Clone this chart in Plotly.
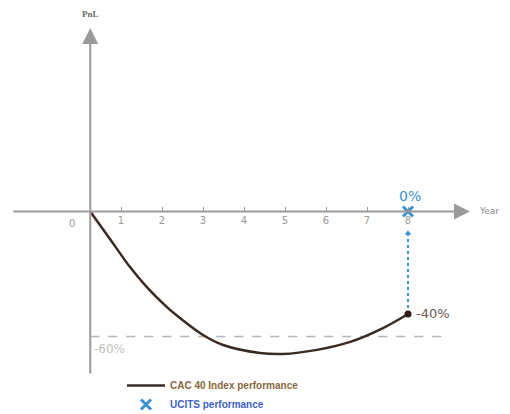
import plotly.graph_objects as go

# CAC 40 index path (years, % PnL)
years = [0.25, 0.80, 1.22, 1.63, 2.12, 2.44, 3.00, 3.49, 4.39, 4.95, 5.78, 6.59, 7.39, 8.0]
cac_perf = [0, -12.3, -21.7, -29.5, -37.3, -41.6, -48.2, -52.1, -55.2, -55.6, -54.0, -50.9, -45.5, -40]

# barrier level (drawn) and its label
barrier_level = -48.8
barrier_label = '-60%'

# final values at maturity
maturity = 8
cac_final = -40
ucits_final = 0
arrow_top = -8.5

tick_years = [1, 2, 3, 4, 5, 6, 7, 8]

axis_grey = '#9a9a9a'
blue = '#3b93cf'

fig = go.Figure()

# barrier dashed line
fig.add_trace(go.Scatter(
    x=[years[0], 8.9], y=[barrier_level, barrier_level], mode='lines',
    line=dict(color='#b5b5b5', width=1.5, dash='dash'),
    showlegend=False, hoverinfo='skip'))

# dotted blue arrow from index end up to the UCITS payoff
fig.add_trace(go.Scatter(
    x=[maturity, maturity], y=[cac_final, arrow_top], mode='lines',
    line=dict(color=blue, width=2, dash='dot'),
    showlegend=False, hoverinfo='skip'))
fig.add_trace(go.Scatter(
    x=[maturity], y=[arrow_top], mode='markers',
    marker=dict(symbol='triangle-up', size=6, color=blue),
    showlegend=False, hoverinfo='skip'))

# index curve
fig.add_trace(go.Scatter(
    x=years, y=cac_perf, mode='lines', line_shape='spline',
    line=dict(color='#3a2b22', width=2.5),
    name='<b><span style="color:#86683c">CAC 40 Index performance</span></b>'))
fig.add_trace(go.Scatter(
    x=[maturity], y=[cac_final], mode='markers',
    marker=dict(size=7, color='#2b1f18'),
    showlegend=False, hoverinfo='skip'))

# UCITS payoff
fig.add_trace(go.Scatter(
    x=[maturity], y=[ucits_final], mode='markers',
    marker=dict(symbol='x-thin', size=10, line=dict(width=3, color=blue)),
    name='<b><span style="color:#3f5fc4">UCITS performance</span></b>'))

ann = dict(xref='x', yref='y', showarrow=False)
annotations = [
    # x axis arrow
    dict(x=9.51, y=0, ax=-1.66, ay=0, axref='x', ayref='y', xref='x', yref='y',
         text='', showarrow=True, arrowhead=2, arrowsize=1.6, arrowwidth=2,
         arrowcolor=axis_grey),
    # y axis arrow
    dict(x=years[0], y=71.6, ax=years[0], ay=-63.8, axref='x', ayref='y',
         xref='x', yref='y', text='', showarrow=True, arrowhead=2,
         arrowsize=1.6, arrowwidth=2, arrowcolor=axis_grey),
    dict(ann, x=9.68, y=0, text='Year', xanchor='left',
         font=dict(size=9, color='#8a8a8a')),
    dict(ann, x=years[0], y=77.1, text='<b>PnL</b>',
         font=dict(size=9, color='#6a6a6a', family='Liberation Serif')),
    dict(ann, x=0, y=0, text='0', xshift=-8, yshift=-12,
         font=dict(size=10, color=axis_grey)),
    dict(ann, x=maturity, y=ucits_final, text='0%', yshift=15, xshift=2,
         font=dict(size=14, color=blue)),
    dict(ann, x=maturity, y=cac_final, text='-40%', xanchor='left', xshift=6,
         font=dict(size=13, color='#6a5a50')),
    dict(ann, x=years[0], y=barrier_level, text=barrier_label, xanchor='left',
         xshift=2, yshift=-12, font=dict(size=12, color='#c0c0c0')),
]

fig.update_layout(
    width=510, height=414,
    margin=dict(l=0, r=0, t=0, b=0),
    paper_bgcolor='white', plot_bgcolor='white',
    font=dict(family='DejaVu Sans'),
    xaxis=dict(range=[-1.756, 10.683], anchor='free', position=0.5085,
               showgrid=False, zeroline=False, showline=False,
               tickvals=tick_years, ticks='inside', ticklen=4, tickwidth=1,
               ticklabelstandoff=2,
               tickcolor=axis_grey, tickfont=dict(size=10, color=axis_grey)),
    yaxis=dict(range=[-82.15, 79.41], visible=False),
    legend=dict(x=0.2235, y=1 - 363 / 414, xanchor='left', yanchor='top',
                bgcolor='rgba(0,0,0,0)', tracegroupgap=0, itemwidth=38,
                font=dict(family='Liberation Sans', size=10)),
    annotations=annotations,
)

fig.write_html('out.html')
